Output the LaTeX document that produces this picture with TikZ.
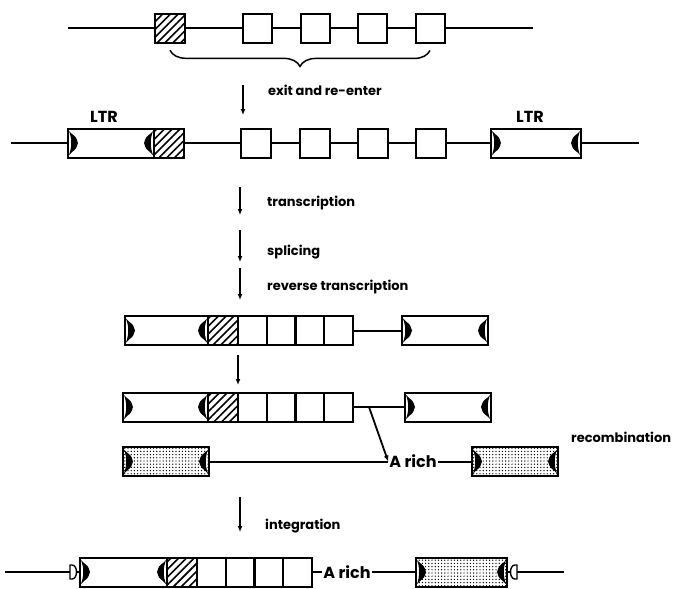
\documentclass[tikz,border=0pt]{standalone}
\usepackage{fontspec}
\setmainfont{Poppins}
\usepackage{tikz}
\usetikzlibrary{arrows.meta,patterns.meta,decorations.pathreplacing}

\begin{document}
\begin{tikzpicture}[x=1pt,y=-1pt,>={Latex[length=6pt,width=5pt]},
  exon/.style={draw,line width=2pt,minimum width=29pt,minimum height=29pt,inner sep=0pt},
  hatched/.style={exon,minimum width=30pt,pattern={Lines[angle=45,distance=5.5pt,line width=1.6pt]}},
  ltrbox/.style={exon,minimum width=86pt},
  dotbox/.style={ltrbox,pattern={Dots[distance=3.2pt,radius=0.7pt]}},
  dna/.style={line width=2pt},
  stepline/.style={->,line width=1.3pt},
  lbl/.style={anchor=west,inner sep=0pt,font=\bfseries\fontsize{13}{15}\selectfont},
  ltrlbl/.style={inner sep=0pt,font=\bfseries\fontsize{16}{18}\selectfont},
  arich/.style={inner sep=1pt,font=\bfseries\fontsize{16}{18}\selectfont},
  tip right/.pic={\fill (0,-12) -- (3,-9) .. controls (7,-6) .. (9,0) .. controls (7,6) .. (3,9) -- (0,12) .. controls (3,4) and (3,-4) .. (0,-12) -- cycle;},
  tip left/.pic={\fill (0,-12) -- (-3,-9) .. controls (-7,-6) .. (-9,0) .. controls (-7,6) .. (-3,9) -- (0,12) .. controls (-3,4) and (-3,-4) .. (0,-12) -- cycle;},
  open right/.pic={\draw[line width=1.4pt,fill=white] (0,-7) -- (2,-7) .. controls (8,-7) and (8,7) .. (2,7) -- (0,7) -- cycle;},
  open left/.pic={\draw[line width=1.4pt,fill=white] (0,-7) -- (-2,-7) .. controls (-8,-7) and (-8,7) .. (-2,7) -- (0,7) -- cycle;}]
\useasboundingbox (0,0) rectangle (683,589);

% provirus in the genome
\coordinate (A0) at (68,28);
\node[hatched] (AH) at (170,28) {};
\node[exon] (A1) at (257,28) {};
\node[exon] (A2) at (315,28) {};
\node[exon] (A3) at (372,28) {};
\node[exon] (A4) at (430,28) {};
\coordinate (A5) at (533,28);
\draw[dna] (A0) -- (AH) -- (A1) -- (A2) -- (A3) -- (A4) -- (A5);
\draw[line width=1.5pt,decorate,decoration={brace,amplitude=16pt}] ([yshift=-7pt]A4.south) -- ([yshift=-7pt]AH.south);

\coordinate (S1a) at (243,85);
\coordinate (S1b) at (243,115);
\draw[stepline] (S1a) -- (S1b);
\node[lbl] (T1) at (268,90) {exit and re-enter};

% gene between two LTRs
\coordinate (B0) at (11,143);
\node[ltrbox] (BL) at (111,143) {};
\node[hatched] (BH) at (169,143) {};
\node[exon,minimum width=30pt] (B1) at (256,143) {};
\node[exon,minimum width=30pt] (B2) at (315,143) {};
\node[exon,minimum width=30pt] (B3) at (373,143) {};
\node[exon,minimum width=30pt] (B4) at (431,143) {};
\node[ltrbox,minimum width=90pt] (BR) at (536,143) {};
\coordinate (B5) at (639,143);
\draw[dna] (B0) -- (BL);
\draw[dna] (BH) -- (B1) -- (B2) -- (B3) -- (B4) -- (BR) -- (B5);
\node[ltrlbl] (BLT) at (104,117) {LTR};
\node[ltrlbl] (BRT) at (530,117) {LTR};
\pic at ([xshift=2pt]BL.west) {tip right};
\pic at ([xshift=-2pt]BL.east) {tip left};
\pic at ([xshift=2pt]BR.west) {tip right};
\pic at ([xshift=-2pt]BR.east) {tip left};

\coordinate (S2a) at (240,187);
\coordinate (S2b) at (240,215);
\draw[stepline] (S2a) -- (S2b);
\node[lbl] (T2) at (267,203) {transcription};
\coordinate (S3a) at (240,230);
\coordinate (S3b) at (240,262);
\draw[stepline] (S3a) -- (S3b);
\node[lbl] (T3) at (267,252) {splicing};
\coordinate (S4a) at (240,268);
\coordinate (S4b) at (240,300);
\draw[stepline] (S4a) -- (S4b);
\node[lbl] (T4) at (267,287) {reverse transcription};

% spliced copy
\node[ltrbox,minimum width=83pt] (CL) at (166.5,330.5) {};
\node[hatched] (CH) at (223,330.5) {};
\node[exon,minimum width=28.75pt] (C1) at (252.4,330.5) {};
\node[exon,minimum width=28.75pt] (C2) at (281.1,330.5) {};
\node[exon,minimum width=28.75pt] (C3) at (309.9,330.5) {};
\node[exon,minimum width=28.75pt] (C4) at (338.6,330.5) {};
\node[ltrbox] (CR) at (445,330.5) {};
\draw[dna] (C4) -- (CR);
\pic at ([xshift=2pt]CL.west) {tip right};
\pic at ([xshift=-2pt]CL.east) {tip left};
\pic at ([xshift=2pt]CR.west) {tip right};
\pic at ([xshift=-2pt]CR.east) {tip left};

\coordinate (S5a) at (238,355);
\coordinate (S5b) at (238,385);
\draw[stepline] (S5a) -- (S5b);

\node[ltrbox,minimum width=85pt] (DL) at (165.5,407) {};
\node[hatched] (DH) at (223,407) {};
\node[exon,minimum width=28.75pt] (D1) at (252.4,407) {};
\node[exon,minimum width=28.75pt] (D2) at (281.1,407) {};
\node[exon,minimum width=28.75pt] (D3) at (309.9,407) {};
\node[exon,minimum width=28.75pt] (D4) at (338.6,407) {};
\node[ltrbox] (DR) at (448,407) {};
\draw[dna] (D4) -- (DR);
\pic at ([xshift=2pt]DL.west) {tip right};
\pic at ([xshift=-2pt]DL.east) {tip left};
\pic at ([xshift=2pt]DR.west) {tip right};
\pic at ([xshift=-2pt]DR.east) {tip left};

% recombination with a second element
\node[dotbox] (EL) at (166,461.5) {};
\node[arich] (EA) at (413,461.5) {A rich};
\node[dotbox] (ER) at (515,461.5) {};
\draw[dna] (EL) -- (EA) -- (ER);
\coordinate (DX) at (369,407);
\draw[stepline,line width=1.8pt] (DX) -- (EA.west);
\pic at ([xshift=2pt]EL.west) {tip right};
\pic at ([xshift=-2pt]EL.east) {tip left};
\pic at ([xshift=2pt]ER.west) {tip right};
\pic at ([xshift=-2pt]ER.east) {tip left};
\node[lbl] (T5) at (571,437) {recombination};

\coordinate (S6a) at (240,497);
\coordinate (S6b) at (240,532);
\draw[stepline] (S6a) -- (S6b);
\node[lbl] (T6) at (265,526) {integration};

% processed pseudogene in the genome
\coordinate (F0) at (5,572);
\node[ltrbox,minimum width=87pt] (FL) at (123.5,572) {};
\node[hatched] (FH) at (182,572) {};
\node[exon,minimum width=28.75pt] (F1) at (211.4,572) {};
\node[exon,minimum width=28.75pt] (F2) at (240.1,572) {};
\node[exon,minimum width=28.75pt] (F3) at (268.9,572) {};
\node[exon,minimum width=28.75pt] (F4) at (297.6,572) {};
\node[arich] (FA) at (347,572) {A rich};
\node[dotbox,minimum width=91pt] (FR) at (461.5,572) {};
\coordinate (F5) at (564,572);
\draw[dna] (F0) -- (FL);
\draw[dna] (F4) -- (FA) -- (FR) -- (F5);
\pic at ([xshift=-9pt]FL.west) {open right};
\pic at ([xshift=2pt]FL.west) {tip right};
\pic at ([xshift=-2pt]FL.east) {tip left};
\pic at ([xshift=2pt]FR.west) {tip right};
\pic at ([xshift=-2pt]FR.east) {tip left};
\pic at ([xshift=9pt]FR.east) {open left};
\end{tikzpicture}
\end{document}
